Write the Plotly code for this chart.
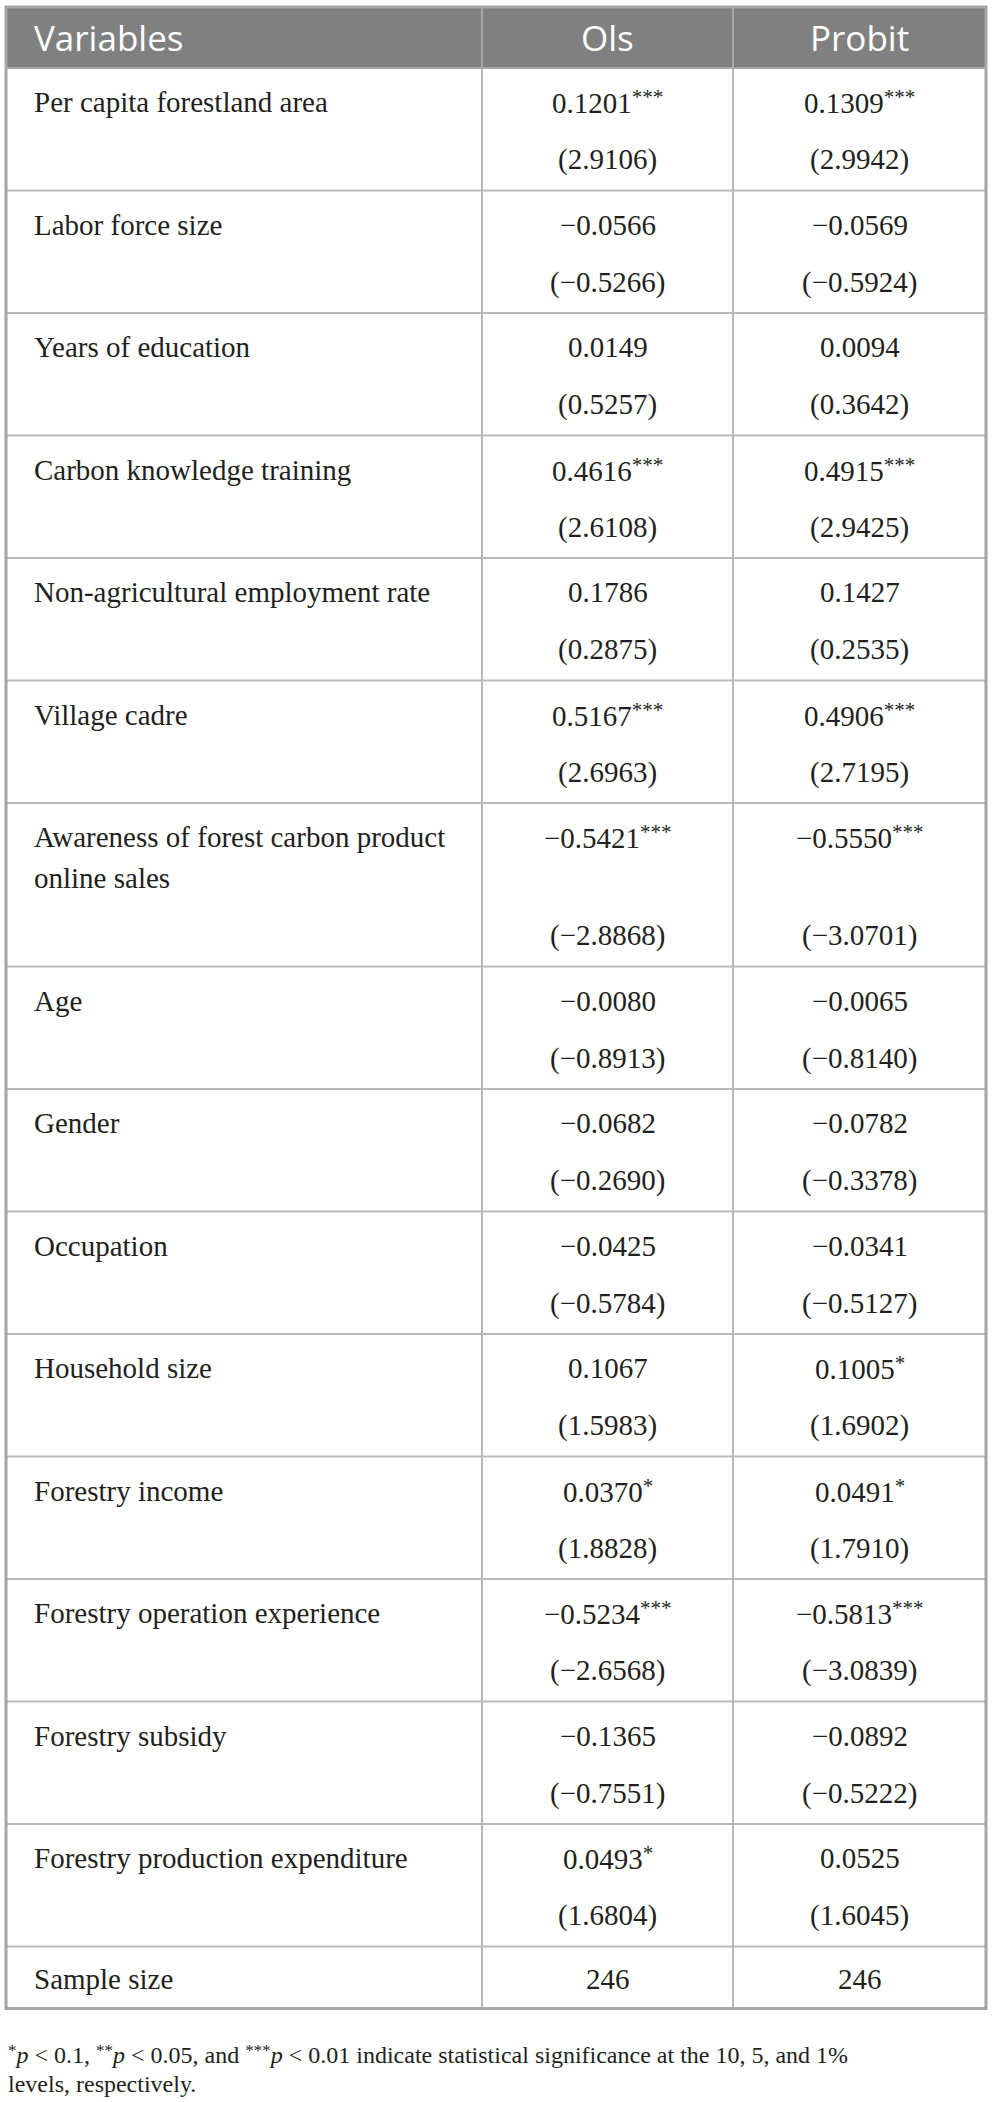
import plotly.graph_objects as go

# table content
columns = ["Variables", "Ols", "Probit"]
variables = [
    "Per capita forestland area",
    "Labor force size",
    "Years of education",
    "Carbon knowledge training",
    "Non-agricultural employment rate",
    "Village cadre",
    "Awareness of forest carbon product<br>online sales",
    "Age",
    "Gender",
    "Occupation",
    "Household size",
    "Forestry income",
    "Forestry operation experience",
    "Forestry subsidy",
    "Forestry production expenditure",
]
ols_coef = [0.1201, -0.0566, 0.0149, 0.4616, 0.1786, 0.5167, -0.5421, -0.0080,
            -0.0682, -0.0425, 0.1067, 0.0370, -0.5234, -0.1365, 0.0493]
ols_stars = ["***", "", "", "***", "", "***", "***", "", "", "", "", "*", "***", "", "*"]
ols_t = [2.9106, -0.5266, 0.5257, 2.6108, 0.2875, 2.6963, -2.8868, -0.8913,
         -0.2690, -0.5784, 1.5983, 1.8828, -2.6568, -0.7551, 1.6804]
probit_coef = [0.1309, -0.0569, 0.0094, 0.4915, 0.1427, 0.4906, -0.5550, -0.0065,
               -0.0782, -0.0341, 0.1005, 0.0491, -0.5813, -0.0892, 0.0525]
probit_stars = ["***", "", "", "***", "", "***", "***", "", "", "", "*", "*", "***", "", ""]
probit_t = [2.9942, -0.5924, 0.3642, 2.9425, 0.2535, 2.7195, -3.0701, -0.8140,
            -0.3378, -0.5127, 1.6902, 1.7910, -3.0839, -0.5222, 1.6045]
sample_label = "Sample size"
sample_size = [246, 246]
footnote_levels = ["0.1", "0.05", "0.01"]
footnote_tail = "indicate statistical significance at the 10, 5, and 1%"
footnote_line2 = "levels, respectively."

# geometry (pixels)
W, H = 993, 2102
X0, X1, X2, X3 = 6, 482, 733, 986
HEAD_TOP, HEAD_BOT = 7, 68
ROW_H = 122.5
EXTRA_LINE = 41
SAMPLE_H = 62
LABEL_X = 33
FS = 29
HFS = 35
NFS = 24
SERIF = "Liberation Serif"
SANS = "Open Sans"
INK = "#231f20"
GRID = "#b9b9b9"


def fmt(v):
    return f"{v:.4f}".replace("-", "\u2212")


def star(s, size):
    # raised, smaller asterisks
    return (f"<span style='font-size:{round(size * 0.72)}px;"
            f"baseline-shift:{round(size * 0.3)}px'>{s}</span>")


def mid(baseline, size):
    # an annotation is centred on its glyph box, about 0.34em above the baseline
    return baseline - 0.34 * size


annotations = []


def put(x, baseline, text, size, family, color=INK, anchor="center"):
    annotations.append(dict(
        x=x, y=mid(baseline, size), xref="x", yref="y", text=text,
        showarrow=False, xanchor=anchor, yanchor="middle", borderpad=0,
        font=dict(family=family, size=size, color=color)))


tops = []
y = HEAD_BOT
for lab in variables:
    tops.append(y)
    y += ROW_H + lab.count("<br>") * EXTRA_LINE
sample_top = y
table_bot = sample_top + SAMPLE_H

col_mid = [(X1 + X2) / 2, (X2 + X3) / 2]

# header
put(LABEL_X, 49, columns[0], HFS, SANS, "white", "left")
put(col_mid[0], 49, columns[1], HFS, SANS, "white")
put(col_mid[1], 49, columns[2], HFS, SANS, "white")

# body
for i, lab in enumerate(variables):
    top = tops[i]
    bot = tops[i + 1] if i + 1 < len(tops) else sample_top
    for k, part in enumerate(lab.split("<br>")):
        put(LABEL_X, top + 44 + k * EXTRA_LINE, part, FS, SERIF, anchor="left")
    cells = [(ols_coef[i], ols_stars[i], ols_t[i]), (probit_coef[i], probit_stars[i], probit_t[i])]
    for c, (coef, stars, t) in enumerate(cells):
        first = fmt(coef) + (star(stars, FS) if stars else "")
        put(col_mid[c], top + 44, first, FS, SERIF)
        put(col_mid[c], bot - 21, f"({fmt(t)})", FS, SERIF)

put(LABEL_X, sample_top + 42, sample_label, FS, SERIF, anchor="left")
for c, n in enumerate(sample_size):
    put(col_mid[c], sample_top + 42, str(n), FS, SERIF)

# footnote
parts = [f"{star('*' * (k + 1), NFS)}<i>p</i> &lt; {lv}" for k, lv in enumerate(footnote_levels)]
line1 = f"{parts[0]}, {parts[1]}, and {parts[2]} {footnote_tail}"
put(X0 + 1, 2063, line1, NFS, SERIF, anchor="left")
put(X0 + 1, 2092, footnote_line2, NFS, SERIF, anchor="left")

shapes = [
    dict(type="rect", x0=X0, x1=X3, y0=HEAD_TOP, y1=HEAD_BOT,
         fillcolor="#808080", line=dict(width=0), layer="below"),
]
for xv in (X1, X2):
    shapes.append(dict(type="line", x0=xv, x1=xv, y0=HEAD_TOP, y1=HEAD_BOT,
                       line=dict(color="#a8a8a8", width=2)))
    shapes.append(dict(type="line", x0=xv, x1=xv, y0=HEAD_BOT, y1=table_bot,
                       line=dict(color=GRID, width=2)))
for yv in tops[1:] + [sample_top]:
    shapes.append(dict(type="line", x0=X0, x1=X3, y0=yv, y1=yv,
                       line=dict(color=GRID, width=2)))
shapes.append(dict(type="line", x0=X0, x1=X3, y0=HEAD_BOT, y1=HEAD_BOT,
                   line=dict(color="#a8a8a8", width=2)))
shapes.append(dict(type="rect", x0=X0, x1=X3, y0=HEAD_TOP, y1=table_bot,
                   line=dict(color="#a6a6a6", width=3)))

fig = go.Figure()
fig.update_layout(
    width=W, height=H,
    margin=dict(l=0, r=0, t=0, b=0),
    paper_bgcolor="white", plot_bgcolor="white",
    showlegend=False,
    shapes=shapes,
    annotations=annotations,
    xaxis=dict(range=[0, W], visible=False, fixedrange=True),
    yaxis=dict(range=[H, 0], visible=False, fixedrange=True),
)

fig.write_html("out.html", config={"displayModeBar": False},
               post_script="document.body.style.margin='0';")
